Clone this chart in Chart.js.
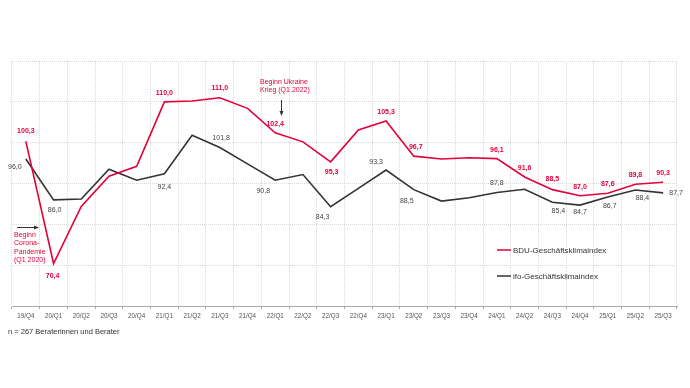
<!DOCTYPE html>
<html>
<head>
<meta charset="utf-8">
<script src="https://cdn.jsdelivr.net/npm/chart.js@4"></script>
<style>
  html, body { margin: 0; padding: 0; background: #fff; }
  canvas { display: block; }
</style>
</head>
<body>
<canvas id="klima" width="690" height="388"></canvas>
<script>
var quarters = ['19/Q4','20/Q1','20/Q2','20/Q3','20/Q4','21/Q1','21/Q2','21/Q3','21/Q4',
  '22/Q1','22/Q2','22/Q3','22/Q4','23/Q1','23/Q2','23/Q3','23/Q4','24/Q1','24/Q2','24/Q3',
  '24/Q4','25/Q1','25/Q2','25/Q3']
var bduValues = [100.3, 70.4, 84.4, 91.8, 94.2, 110.0, 110.2, 111.0, 108.4, 102.4, 100.2, 95.3,
  103.1, 105.3, 96.7, 96.0, 96.3, 96.1, 91.6, 88.5, 87.0, 87.6, 89.8, 90.3]
var ifoValues = [96.0, 86.0, 86.2, 93.5, 90.8, 92.4, 101.8, 98.8, 94.8, 90.8, 92.2, 84.3,
  88.8, 93.3, 88.5, 85.7, 86.5, 87.8, 88.6, 85.4, 84.7, 86.7, 88.4, 87.7]
var seriesNames = ['BDU-Geschäftsklimaindex', 'ifo-Geschäftsklimaindex']

var red = '#e4003b'
var dark = '#333333'
var fontFam = '"Liberation Sans", Arial, sans-serif'

// which points carry a value label, and where the label sits (px offset from point)
var bduLabelPos = [[0,0,-10],[1,-1,13],[5,0,-9],[7,0,-10],[9,0,-9],[11,1,10],[13,0,-9],
  [14,2,-9],[17,0,-9],[18,0,-9],[19,0,-11],[20,0,-9],[21,0,-9],[22,0,-9],[23,0,-9]]
var ifoLabelPos = [[0,-11,8],[1,1,10],[5,0,13],[6,29,3],[9,-12,11],[11,-8,10],[13,-10,-8],
  [14,-7,11],[17,0,-9],[19,6,9],[20,0,7],[21,2,9],[22,7,8],[23,13,0]]

function fmt(v) { return v.toFixed(1).replace('.', ',') }

var labelPlugin = {
  id: 'extras',
  afterDatasetsDraw: function(chart) {
    var c = chart.ctx
    c.save()
    c.textAlign = 'center'
    c.textBaseline = 'middle'
    var sets = [[0, bduLabelPos, 'bold 7px ' + fontFam, red], [1, ifoLabelPos, '7px ' + fontFam, '#444']]
    sets.forEach(function(s) {
      var meta = chart.getDatasetMeta(s[0])
      var vals = chart.data.datasets[s[0]].data
      c.font = s[2]
      c.fillStyle = s[3]
      s[1].forEach(function(p) {
        var pt = meta.data[p[0]]
        c.fillText(fmt(vals[p[0]]), pt.x + p[1], pt.y + p[2])
      })
    })

    // annotations
    c.textAlign = 'left'
    c.font = '7px ' + fontFam
    c.fillStyle = red
    ;['Beginn', 'Corona-', 'Pandemie', '(Q1 2020)'].forEach(function(t, i) {
      c.fillText(t, 14, 235 + i * 8.4)
    })
    c.fillText('Beginn Ukraine', 260, 82)
    c.fillText('Krieg (Q1 2022)', 260, 90.5)

    c.strokeStyle = dark
    c.fillStyle = dark
    c.lineWidth = 1
    c.beginPath(); c.moveTo(17, 227.5); c.lineTo(35, 227.5); c.stroke()
    c.beginPath(); c.moveTo(39, 227.5); c.lineTo(34, 225.5); c.lineTo(34, 229.5); c.closePath(); c.fill()
    c.beginPath(); c.moveTo(281.5, 100); c.lineTo(281.5, 112); c.stroke()
    c.beginPath(); c.moveTo(281.5, 116); c.lineTo(279.5, 111); c.lineTo(283.5, 111); c.closePath(); c.fill()

    // legend
    c.font = '8px ' + fontFam
    c.fillStyle = dark
    c.lineWidth = 1.5
    c.strokeStyle = red
    c.beginPath(); c.moveTo(497, 250); c.lineTo(511, 250); c.stroke()
    c.fillText(seriesNames[0], 513, 250.5)
    c.strokeStyle = dark
    c.beginPath(); c.moveTo(497, 276); c.lineTo(511, 276); c.stroke()
    c.fillText(seriesNames[1], 513, 276.5)

    // footnote
    c.font = '7.5px ' + fontFam
    c.fillStyle = '#333'
    c.fillText('n = 267 Beraterinnen und Berater', 8, 332)
    c.restore()
  }
}

new Chart(document.getElementById('klima').getContext('2d'), {
  type: 'line',
  data: {
    labels: quarters,
    datasets: [{
      label: seriesNames[0],
      data: bduValues,
      borderColor: red,
      borderWidth: 1.6,
      pointRadius: 0,
      tension: 0
    }, {
      label: seriesNames[1],
      data: ifoValues,
      borderColor: dark,
      borderWidth: 1.6,
      pointRadius: 0,
      tension: 0
    }]
  },
  options: {
    responsive: false,
    animation: false,
    layout: { padding: { left: 12, right: 13, top: 61, bottom: 0 } },
    plugins: { legend: { display: false }, tooltip: { enabled: false } },
    scales: {
      x: {
        offset: true,
        grid: { offset: true, color: '#d8d8d8', tickColor: '#aaa', tickLength: 3 },
        border: { color: '#aaa', dash: [1, 1] },
        ticks: { color: '#555', font: { size: 6.3, family: fontFam }, padding: 3, maxRotation: 0, autoSkip: false },
        afterFit: function(s) { s.height = 82 }
      },
      y: {
        min: 60,
        max: 120,
        ticks: { display: false, stepSize: 10 },
        grid: { color: '#d8d8d8', drawTicks: false },
        border: { display: false, dash: [1, 1] },
        afterFit: function(s) { s.width = 0 }
      }
    }
  },
  plugins: [labelPlugin]
})
</script>
</body>
</html>
